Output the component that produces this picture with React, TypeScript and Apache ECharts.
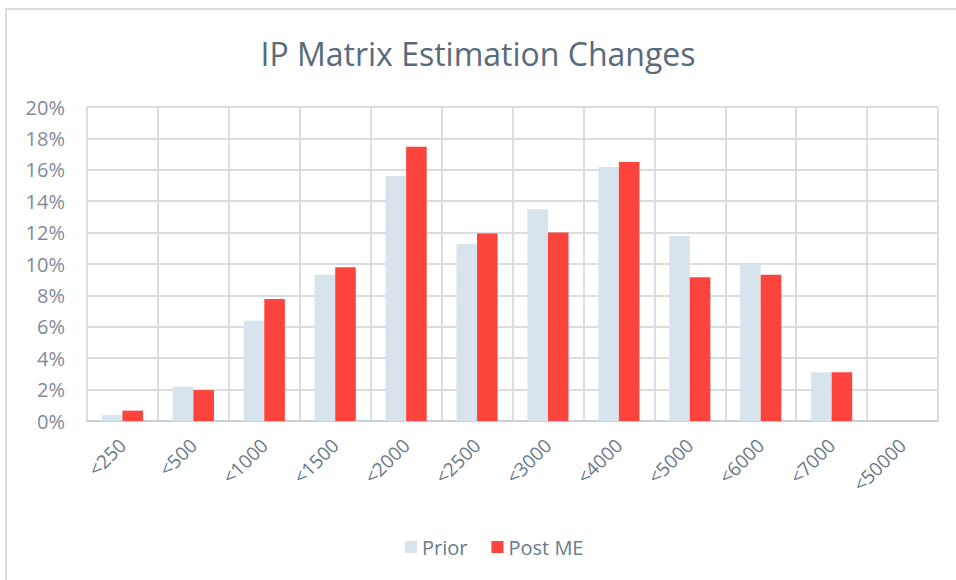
import React, { useEffect, useRef } from "react";
import * as echarts from "echarts";

const categories = ["<250", "<500", "<1000", "<1500", "<2000", "<2500", "<3000", "<4000", "<5000", "<6000", "<7000", "<50000"];
const priorValues = [0.38, 2.18, 6.39, 9.32, 15.6, 11.27, 13.48, 16.18, 11.78, 10.0, 3.1, 0];
const postValues = [0.66, 1.97, 7.77, 9.79, 17.47, 11.95, 12.0, 16.5, 9.15, 9.32, 3.1, 0];
const yTicks = { min: 0, max: 20, interval: 2 };

const FONT = "'Open Sans', 'Noto Sans', sans-serif";

export default function App() {
  const ref = useRef<HTMLDivElement>(null);
  useEffect(() => {
    document.body.style.margin = "0";
    const chart = echarts.init(ref.current!, null, { renderer: "svg" });
    chart.setOption({
      animation: false,
      backgroundColor: "#ffffff",
      title: {
        text: "IP Matrix Estimation Changes",
        left: "center",
        top: 32,
        textStyle: { fontFamily: FONT, fontSize: 32, fontWeight: "normal", color: "#596A7B" },
      },
      graphic: [
        {
          type: "rect",
          shape: { x: 6, y: 9, width: 1200, height: 1000 },
          style: { fill: "none", stroke: "#D9DEE3", lineWidth: 2 },
          silent: true,
        },
      ],
      legend: {
        bottom: 18,
        left: 400,
        itemWidth: 12,
        itemHeight: 12,
        itemGap: 24,
        icon: "rect",
        textStyle: { fontFamily: FONT, fontSize: 20, color: "#6B7B8B" },
        data: ["Prior", "Post ME"],
      },
      grid: { left: 87, right: 18, top: 107, bottom: 159, containLabel: false },
      xAxis: {
        type: "category",
        data: categories,
        axisTick: { show: false },
        axisLine: { show: true, lineStyle: { color: "#C9D0D7", width: 2 } },
        splitLine: { show: true, lineStyle: { color: "#D9DEE4", width: 2 } },
        axisLabel: {
          rotate: 45,
          interval: 0,
          margin: 21,
          fontFamily: FONT,
          fontSize: 19,
          color: "#667788",
        },
      },
      yAxis: {
        type: "value",
        min: yTicks.min,
        max: yTicks.max,
        interval: yTicks.interval,
        axisLine: { show: true, lineStyle: { color: "#D9DEE4", width: 2 } },
        axisTick: { show: false },
        splitLine: { show: true, lineStyle: { color: "#D9DEE4", width: 2 } },
        axisLabel: {
          formatter: "{value}%",
          margin: 22,
          fontFamily: FONT,
          fontSize: 20,
          color: "#7F8B98",
        },
      },
      series: [
        {
          name: "Prior",
          type: "bar",
          data: priorValues,
          barGap: "0%",
          barCategoryGap: "42%",
          itemStyle: { color: "#D7E4EE" },
        },
        {
          name: "Post ME",
          type: "bar",
          data: postValues,
          barGap: "0%",
          barCategoryGap: "42%",
          itemStyle: { color: "#FC443D" },
        },
      ],
    });
    return () => chart.dispose();
  }, []);
  return <div ref={ref} style={{ width: 956, height: 580 }} />;
}
